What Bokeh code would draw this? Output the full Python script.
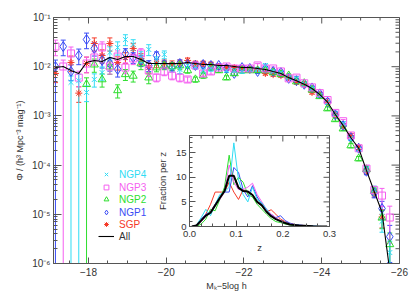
import math
from bokeh.plotting import figure
from bokeh.models import (Range1d, FixedTicker, Whisker, TeeHead,
                          ColumnDataSource, Legend, LegendItem)
from bokeh.layouts import column
from bokeh.embed import file_html
from bokeh.resources import INLINE

nan = float("nan")

# ---------------- main panel data ----------------
mag = [-17.15, -17.35, -17.55, -17.75, -17.95, -18.15, -18.35, -18.55, -18.75, -18.95,
       -19.15, -19.35, -19.55, -19.75, -19.95, -20.15, -20.35, -20.55, -20.75, -20.95,
       -21.15, -21.35, -21.55, -21.75, -21.95, -22.15, -22.35, -22.55, -22.75, -22.95,
       -23.15, -23.35, -23.55, -23.75, -23.95, -24.15, -24.35, -24.55, -24.75, -24.95,
       -25.15, -25.35, -25.55, -25.75]

phi_all = [0.0096, 0.0101, 0.0084, 0.0073, 0.0122, 0.0134, 0.0128, 0.0154, 0.0140, 0.0161,
           0.0161, 0.0140, 0.0116, 0.0116, 0.0116, 0.0116, 0.0116, 0.0122, 0.0116, 0.0111,
           0.0111, 0.0106, 0.0106, 0.0101, 0.0096, 0.0096, 0.0092, 0.0088, 0.0080, 0.0073,
           0.0060, 0.0052, 0.0044, 0.0036, 0.0027, 0.0019, 0.00107, 0.00064, 0.00036, 0.00022,
           7.8e-5, 2.9e-5, 1.1e-5, 7e-7]

phi_ngp1 = [0.0101, 0.0257, 0.0080, 0.0169, 0.0357, 0.0235, 0.0134, 0.0116, 0.0088, 0.0186,
            0.0154, 0.0134, 0.0106, 0.0169, 0.0111, 0.0101, 0.0116, 0.0111, 0.0106, 0.0111,
            0.0106, 0.0106, 0.0092, 0.0073, 0.0096, 0.0092, 0.0080, 0.0092, 0.0080, 0.0076,
            0.0058, 0.0052, 0.0044, 0.0037, 0.0028, 0.0019, 0.00105, 0.00063, 0.00036, 0.00022,
            7.5e-5, 2.7e-5, 1.31e-5, 3.5e-6]

phi_ngp2 = [nan, nan, nan, nan, 0.0044, 0.0110, 0.0055, 0.0100, 0.0033, 0.0070,
            0.0065, 0.0116, 0.0060, 0.0096, 0.0106, 0.0101, 0.0106, 0.0084, 0.0055, 0.0066,
            0.0096, 0.0084, 0.0060, 0.0073, 0.0084, 0.0084, 0.0084, 0.0084, 0.0076, 0.0070,
            0.0066, 0.0050, 0.0046, 0.0034, 0.0025, 0.00141, 0.00085, 0.00055, 0.00025, 0.000136,
            8.2e-5, 3.0e-5, 8.5e-6, 2.45e-6]

phi_ngp3 = [0.0257, 0.0101, 0.0186, 0.0060, 0.0116, 0.0154, 0.0246, 0.0101, 0.0161, 0.0096,
            0.0147, 0.0186, 0.0084, 0.0060, 0.0080, 0.0066, 0.0060, 0.0055, 0.0106, 0.0073,
            0.0080, 0.0096, 0.0101, 0.0092, 0.0092, 0.0092, 0.0106, 0.0092, 0.0092, 0.0080,
            0.0058, 0.0060, 0.0046, 0.0038, 0.0029, 0.0021, 0.00115, 0.00078, 0.00040, 0.00022,
            8.5e-5, 3.1e-5, 2.4e-5, 8.6e-6]

phi_ngp4 = [nan, nan, 0.0048, 0.0052, 0.0030, 0.0055, 0.0076, 0.0195, 0.0246, 0.0357,
            0.0283, 0.0161, 0.0224, 0.0134, 0.0177, 0.0096, 0.0088, 0.0106, 0.0101, 0.0084,
            0.0092, 0.0096, 0.0084, 0.0084, 0.0080, 0.0088, 0.0088, 0.0106, 0.0080, 0.0076,
            0.0060, 0.0058, 0.0044, 0.0036, 0.0026, 0.00187, 0.00112, 0.00070, 0.00035, 0.00021,
            8.2e-5, 3.1e-5, 7.2e-6, 1.67e-6]

phi_sgp = [0.0073, nan, 0.0122, 0.0029, 0.0116, 0.0296, 0.0169, 0.0296, 0.0122, 0.0154,
           0.0235, 0.0147, 0.0096, 0.0116, 0.0116, 0.0111, 0.0116, 0.0134, 0.0116, 0.0116,
           0.0111, 0.0101, 0.0096, 0.0096, 0.0092, 0.0092, 0.0088, 0.0073, 0.0069, 0.0066,
           0.0060, 0.0048, 0.0043, 0.0030, 0.0027, 0.0019, 0.00105, 0.00062, 0.00040, 0.00023,
           7.6e-5, 2.8e-5, 8.8e-6, nan]

# fractional 1-sigma errors per magnitude bin
rel_err = [0.35, 0.35, 0.35, 0.35, 0.35, 0.30, 0.30, 0.30, 0.30, 0.25,
           0.25, 0.25, 0.25, 0.18, 0.18, 0.18, 0.18, 0.12, 0.12, 0.12,
           0.12, 0.09, 0.09, 0.09, 0.09, 0.09, 0.09, 0.07, 0.07, 0.07,
           0.07, 0.07, 0.07, 0.07, 0.07, 0.08, 0.08, 0.08, 0.10, 0.10,
           0.15, 0.20, 0.40, 0.70]

# bins whose lower error bar reaches zero
open_low = {"NGP1": [0], "NGP3": [1], "NGP4": [2, 3], "NGP2": [4], "SGP": []}

x_ticks = [-18, -20, -22, -24, -26]
x_tick_labels = ["\u221218", "\u221220", "\u221222", "\u221224", "\u221226"]
y_ticks = [1e-6, 1e-5, 1e-4, 1e-3, 1e-2, 1e-1]
y_tick_labels = ["10\u207b\u2076", "10\u207b\u2075", "10\u207b\u2074",
                 "10\u207b\u00b3", "10\u207b\u00b2", "10\u207b\u00b9"]

# ---------------- inset data ----------------
z = [0.005, 0.015, 0.025, 0.035, 0.045, 0.055, 0.065, 0.075, 0.085, 0.095,
     0.105, 0.115, 0.125, 0.135, 0.145, 0.155, 0.165, 0.175, 0.185, 0.195,
     0.205, 0.215, 0.225, 0.235, 0.245, 0.255, 0.265, 0.275, 0.285, 0.295]
nz_all = [0, 0.2, 1.2, 2.2, 2.8, 4.3, 5.8, 7.2, 10.3, 10.3, 7.9, 7.2, 7.1, 6.4, 5.0,
          4.3, 3.0, 2.1, 1.5, 1.1, 0.7, 0.4, 0.3, 0.2, 0.15, 0.1, 0.05, 0.02, 0, 0]
nz_ngp4 = [0, 0.3, 1.8, 3.5, 2.2, 4.5, 6.5, 7.0, 8.0, 17.0, 9.5, 6.5, 5.0, 8.0, 5.5,
           4.8, 3.5, 2.2, 1.5, 1.0, 0.8, 0.5, 0.3, 0.3, 0.2, 0.1, 0.1, 0.05, 0, 0]
nz_ngp3 = [0, 0.1, 1.0, 2.0, 3.0, 4.5, 5.5, 7.0, 12.5, 9.0, 7.5, 7.5, 8.0, 8.8, 6.5,
           5.0, 3.5, 2.5, 1.8, 1.2, 0.8, 0.5, 0.4, 0.3, 0.2, 0.1, 0.05, 0.02, 0, 0]
nz_ngp2 = [0, 0, 0.5, 1.5, 3.5, 3.2, 5.5, 8.0, 14.5, 8.5, 10.0, 9.0, 6.5, 6.0, 4.5,
           3.5, 2.5, 1.6, 1.0, 0.8, 0.5, 0.3, 0.2, 0.1, 0.1, 0.05, 0, 0, 0, 0]
nz_ngp1 = [0, 0.2, 1.5, 2.5, 3.0, 4.5, 6.0, 7.0, 7.0, 12.0, 11.0, 7.5, 6.0, 8.3, 6.0,
           4.5, 3.5, 2.5, 1.8, 2.2, 1.2, 0.7, 0.4, 0.3, 0.2, 0.1, 0.05, 0, 0, 0]
nz_sgp = [0, 0.3, 1.5, 2.5, 4.5, 7.0, 7.0, 7.0, 9.0, 7.0, 5.5, 7.5, 7.0, 6.5, 5.0,
          4.2, 3.0, 3.4, 2.5, 1.5, 1.0, 0.6, 0.4, 0.3, 0.2, 0.1, 0.05, 0, 0, 0]

inset_x_ticks = [0.0, 0.1, 0.2, 0.3]
inset_x_labels = ["0.0", "0.1", "0.2", "0.3"]
inset_y_ticks = [0, 5, 10, 15]

# ---------------- styling ----------------
C_NGP4 = "#2fdcf4"
C_NGP3 = "#f55ef0"
C_NGP2 = "#2ede2e"
C_NGP1 = "#3a4cf5"
C_SGP = "#f53a28"
AX = "#555555"
TXT = "#333333"
FONT = "Liberation Sans"

X_LEFT, X_RIGHT = -17.1, -26.0
Y_LO, Y_HI = 1e-6, 1e-1

p = figure(width=411, height=295, x_range=Range1d(X_LEFT, X_RIGHT), y_range=Range1d(Y_LO, Y_HI),
           y_axis_type="log", output_backend="svg", toolbar_location=None,
           min_border_left=53, min_border_right=12, min_border_top=17, min_border_bottom=32)
p.grid.visible = False
p.outline_line_color = AX
p.background_fill_color = "white"
p.border_fill_color = "white"


def style_axis(ax, fs="10px"):
    ax.major_tick_in = 6
    ax.major_tick_out = 0
    ax.minor_tick_in = 3
    ax.minor_tick_out = 0
    ax.axis_line_color = AX
    ax.major_tick_line_color = AX
    ax.minor_tick_line_color = AX
    ax.major_label_text_font = FONT
    ax.major_label_text_font_size = fs
    ax.major_label_text_color = TXT
    ax.axis_label_text_font = FONT
    ax.axis_label_text_font_style = "normal"
    ax.axis_label_text_color = TXT


x_minor = [-17.5 - 0.5 * k for k in range(18) if (-17.5 - 0.5 * k) not in x_ticks]
y_minor = [m * 10.0 ** e for e in range(-6, -1) for m in range(2, 10)]

p.xaxis.ticker = FixedTicker(ticks=x_ticks, minor_ticks=x_minor)
p.xaxis.major_label_overrides = dict(zip(x_ticks, x_tick_labels))
p.yaxis.ticker = FixedTicker(ticks=y_ticks, minor_ticks=y_minor)
p.yaxis.major_label_overrides = dict(zip(y_ticks, y_tick_labels))
style_axis(p.xaxis[0])
style_axis(p.yaxis[0])
p.yaxis.major_tick_in = 8
p.yaxis.minor_tick_in = 4
p.xaxis.axis_label = "M\u2096\u22125log h"
p.yaxis.axis_label = "\u03a6 / (h\u00b3 Mpc\u207b\u00b3 mag\u207b\u00b9)"
p.xaxis.axis_label_text_font_size = "9px"
p.yaxis.axis_label_text_font_size = "9px"
p.xaxis.major_label_standoff = 4
p.xaxis.axis_label_standoff = 2
p.yaxis.major_label_standoff = 3
p.yaxis.axis_label_standoff = 4

# mirrored tick marks on the top and right edges (half of each dash is clipped by the frame)
p.scatter(x_ticks, [Y_HI] * len(x_ticks), marker="dash", angle=math.pi / 2, size=12, line_color=AX)
p.scatter(x_minor, [Y_HI] * len(x_minor), marker="dash", angle=math.pi / 2, size=6, line_color=AX)
p.scatter([X_RIGHT] * len(y_ticks), y_ticks, marker="dash", size=16, line_color=AX)
p.scatter([X_RIGHT] * len(y_minor), y_minor, marker="dash", size=8, line_color=AX)

series = [
    ("SGP", phi_sgp, C_SGP, "asterisk", 7),
    ("NGP1", phi_ngp1, C_NGP1, "diamond", 10),
    ("NGP2", phi_ngp2, C_NGP2, "triangle", 8),
    ("NGP3", phi_ngp3, C_NGP3, "square", 7),
    ("NGP4", phi_ngp4, C_NGP4, "x", 7),
]

renderers = {}
for name, vals, col, marker, size in series:
    xs, ys, up, lo = [], [], [], []
    for i, v in enumerate(vals):
        if v != v:
            continue
        e = rel_err[i] * v
        xs.append(mag[i])
        ys.append(v)
        up.append(v + e)
        if i in open_low[name] or v - e <= Y_LO:
            lo.append(Y_LO)
        else:
            lo.append(v - e)
    src = ColumnDataSource(dict(x=xs, y=ys, upper=up, lower=lo))
    w = Whisker(base="x", upper="upper", lower="lower", source=src, line_color=col, line_width=1,
                upper_head=TeeHead(size=5, line_color=col, line_width=1),
                lower_head=TeeHead(size=5, line_color=col, line_width=1))
    p.add_layout(w)
    r = p.scatter("x", "y", source=src, marker=marker, size=size, line_color=col,
                  fill_alpha=0, line_width=1)
    renderers[name] = r

r_all = p.line(mag, phi_all, line_color="black", line_width=1.1)
renderers["All"] = r_all

legend_rows = [("NGP4", C_NGP4, 174), ("NGP3", C_NGP3, 187), ("NGP2", C_NGP2, 199),
               ("NGP1", C_NGP1, 212), ("SGP", C_SGP, 224), ("All", TXT, 236)]
for name, col, yc in legend_rows:
    leg = Legend(items=[LegendItem(label=name, renderers=[renderers[name]])],
                 location=(45, 257 - yc), glyph_width=16, glyph_height=12, label_height=12,
                 label_standoff=5, padding=0, margin=0, spacing=0,
                 border_line_color=None, background_fill_alpha=0,
                 label_text_color=col, label_text_font=FONT, label_text_font_size="10px")
    p.add_layout(leg)

# ---------------- inset ----------------
IX_LO, IX_HI = 0.0, 0.3
IY_LO, IY_HI = 0.0, 18.5
q = figure(width=205, height=123, x_range=Range1d(IX_LO, IX_HI), y_range=Range1d(IY_LO, IY_HI),
           output_backend="svg", toolbar_location=None,
           min_border_left=30, min_border_right=8, min_border_top=3, min_border_bottom=25)
q.grid.visible = False
q.outline_line_color = AX
q.background_fill_color = "white"
q.border_fill_alpha = 0

ix_minor = [0.025 * k for k in range(13) if k % 4]
iy_minor = [k for k in range(19) if k % 5]
q.xaxis.ticker = FixedTicker(ticks=inset_x_ticks, minor_ticks=ix_minor)
q.xaxis.major_label_overrides = dict(zip(inset_x_ticks, inset_x_labels))
q.yaxis.ticker = FixedTicker(ticks=inset_y_ticks, minor_ticks=iy_minor)
style_axis(q.xaxis[0], "9.5px")
style_axis(q.yaxis[0], "9.5px")
q.xaxis.axis_label = "z"
q.yaxis.axis_label = "Fraction per z"
q.xaxis.axis_label_text_font_size = "9.5px"
q.yaxis.axis_label_text_font_size = "9.5px"
q.xaxis.major_label_standoff = 4
q.xaxis.axis_label_standoff = 2
q.yaxis.major_label_standoff = 3
q.yaxis.axis_label_standoff = 5

q.scatter(inset_x_ticks, [IY_HI] * 4, marker="dash", angle=math.pi / 2, size=12, line_color=AX)
q.scatter(ix_minor, [IY_HI] * len(ix_minor), marker="dash", angle=math.pi / 2, size=6, line_color=AX)
q.scatter([IX_HI] * 4, inset_y_ticks, marker="dash", size=12, line_color=AX)
q.scatter([IX_HI] * len(iy_minor), iy_minor, marker="dash", size=6, line_color=AX)

for vals, col in [(nz_sgp, C_SGP), (nz_ngp1, C_NGP1), (nz_ngp2, C_NGP2),
                  (nz_ngp3, C_NGP3), (nz_ngp4, C_NGP4)]:
    q.line(z, vals, line_color=col, line_width=1)
q.line(z, nz_all, line_color="black", line_width=2)

# place the inset over the lower-middle part of the main panel
q.margin = (-163, 0, 0, 136)
layout = column(p, q)

open("out.html", "w").write(file_html(layout, INLINE))
